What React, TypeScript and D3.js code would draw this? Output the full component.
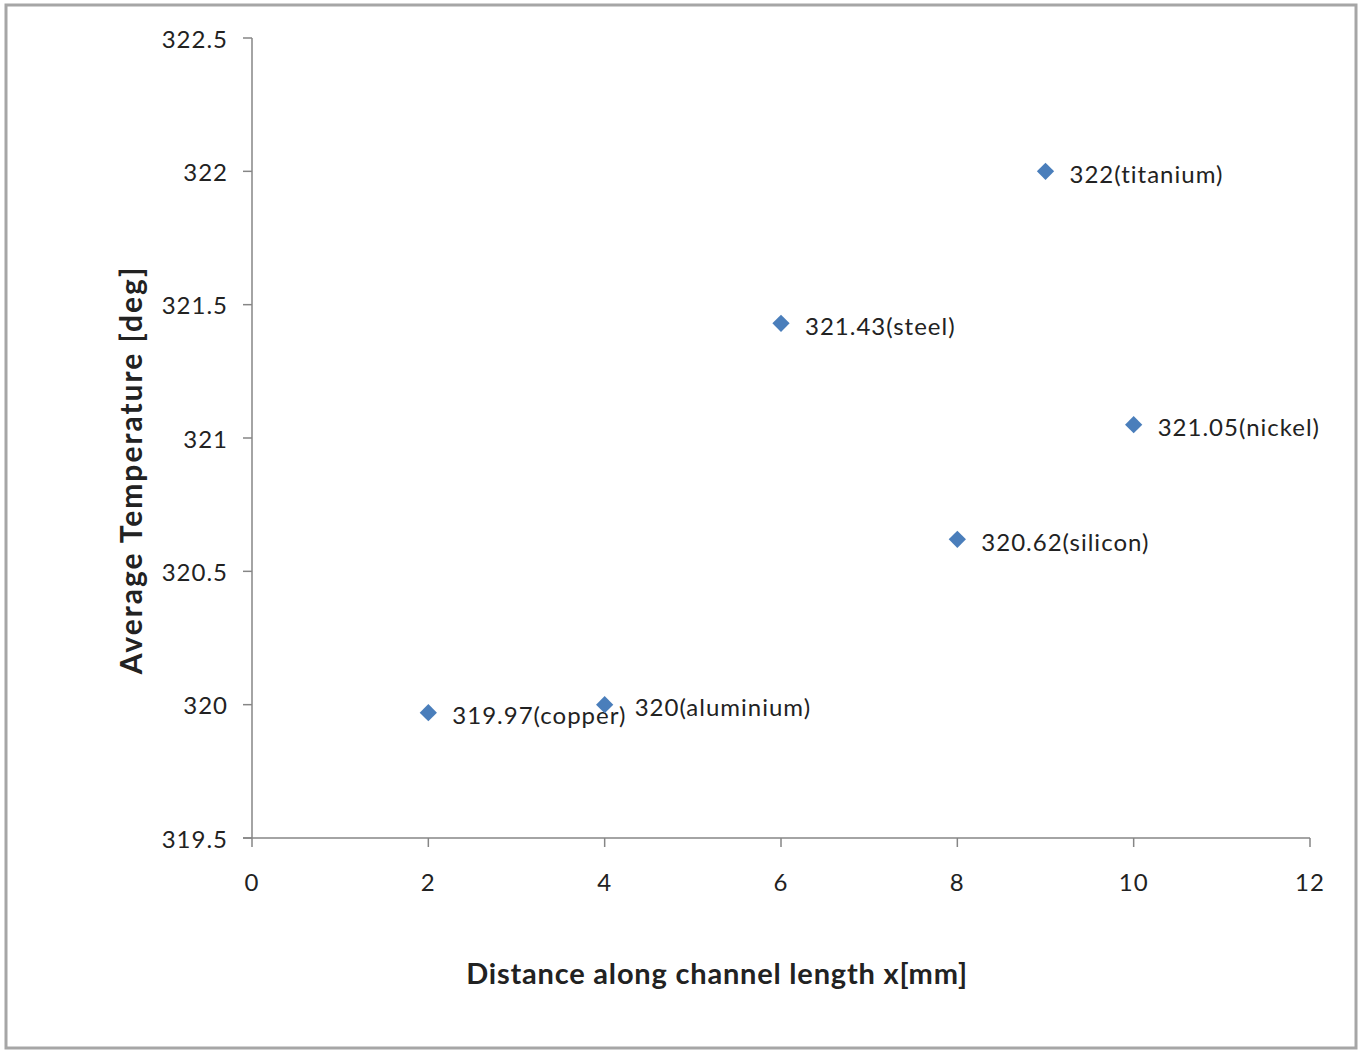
import React from "react";
import * as d3 from "d3";

const xValues = [2, 4, 6, 8, 9, 10];
const yValues = [319.97, 320, 321.43, 320.62, 322, 321.05];
const pointLabels = [
  "319.97(copper)",
  "320(aluminium)",
  "321.43(steel)",
  "320.62(silicon)",
  "322(titanium)",
  "321.05(nickel)",
];
const xTicks = [0, 2, 4, 6, 8, 10, 12];
const yTicks = [319.5, 320, 320.5, 321, 321.5, 322, 322.5];
const xTitle = "Distance along channel length x[mm]";
const yTitle = "Average Temperature [deg]";

const W = 1364;
const H = 1050;
const left = 252;
const right = 1310;
const top = 38;
const bottom = 838;
const font = "Lato, 'Open Sans', sans-serif";

export default function App() {
  const x = d3.scaleLinear().domain([0, 12]).range([left, right]);
  const y = d3.scaleLinear().domain([319.5, 322.5]).range([bottom, top]);
  const diamond = d3.symbol().type(d3.symbolDiamond2).size(190)();
  const axisColor = "#868686";

  return (
    <svg
      width={W}
      height={H}
      style={{ position: "absolute", left: 0, top: 0, background: "#fff" }}
    >
      <rect x={6} y={5} width={1350} height={1043} fill="#fff" stroke="#a6a6a6" strokeWidth={3} />
      {/* y axis */}
      <line x1={left} x2={left} y1={top} y2={bottom} stroke={axisColor} strokeWidth={1.5} />
      {yTicks.map((t) => (
        <g key={"y" + t}>
          <line x1={left - 9} x2={left} y1={y(t)} y2={y(t)} stroke={axisColor} strokeWidth={1.5} />
          <text
            x={228}
            y={y(t)}
            textAnchor="end"
            dominantBaseline="central"
            fontFamily={font}
            fontSize={24}
            letterSpacing={1}
            fill="#222"
          >
            {String(t)}
          </text>
        </g>
      ))}
      {/* x axis */}
      <line x1={left - 9} x2={right} y1={bottom} y2={bottom} stroke={axisColor} strokeWidth={1.5} />
      {xTicks.map((t) => (
        <g key={"x" + t}>
          <line x1={x(t)} x2={x(t)} y1={bottom} y2={bottom + 9} stroke={axisColor} strokeWidth={1.5} />
          <text
            x={x(t)}
            y={881}
            textAnchor="middle"
            dominantBaseline="central"
            fontFamily={font}
            fontSize={24}
            letterSpacing={1}
            fill="#222"
          >
            {String(t)}
          </text>
        </g>
      ))}
      {/* points */}
      {xValues.map((xv, i) => (
        <g key={"p" + i}>
          <path d={diamond} transform={`translate(${x(xv)},${y(yValues[i])})`} fill="#4a7ebb" />
          <text
            x={x(xv) + (i === 1 ? 30 : 24)}
            y={y(yValues[i]) + 2}
            dominantBaseline="central"
            fontFamily={font}
            fontSize={24}
            letterSpacing={1}
            fill="#222"
          >
            {pointLabels[i]}
          </text>
        </g>
      ))}
      <text
        x={717}
        y={972}
        textAnchor="middle"
        dominantBaseline="central"
        fontFamily={font}
        fontWeight="bold"
        fontSize={29}
        letterSpacing={0.8}
        fill="#222"
      >
        {xTitle}
      </text>
      <text
        transform={`translate(130,470) rotate(-90)`}
        textAnchor="middle"
        dominantBaseline="central"
        fontFamily={font}
        fontWeight="bold"
        fontSize={30}
        letterSpacing={2}
        fill="#222"
      >
        {yTitle}
      </text>
    </svg>
  );
}
